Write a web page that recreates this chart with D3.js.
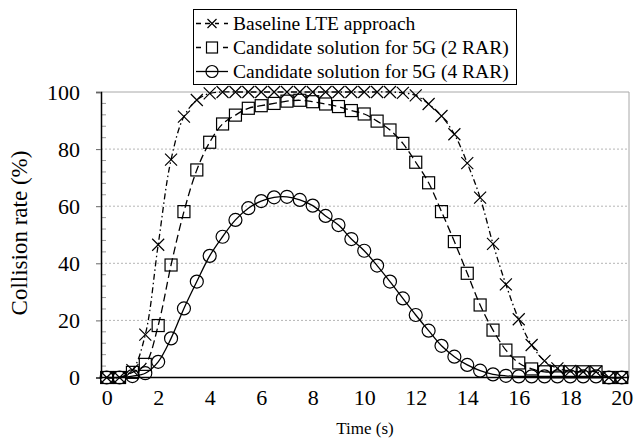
<!DOCTYPE html>
<html>
<head>
<meta charset="utf-8">
<script src="https://cdn.jsdelivr.net/npm/d3@7"></script>
<style>
  body { margin: 0; background: #fff; }
  svg { display: block; font-family: "Liberation Serif", "Times New Roman", serif; }
</style>
</head>
<body>
<div id="chart-container"></div>
<script>
// time axis (s)
const time = [0, 0.5, 1, 1.5, 2, 2.5, 3, 3.5, 4, 4.5, 5, 5.5, 6, 6.5, 7, 7.5, 8, 8.5, 9, 9.5,
  10, 10.5, 11, 11.5, 12, 12.5, 13, 13.5, 14, 14.5, 15, 15.5, 16, 16.5, 17, 17.5, 18, 18.5, 19, 19.5, 20]

const baselineLTE = [0, 0, 2.6, 15, 46.5, 76.3, 91.4, 97.2, 99.5, 100, 100, 100, 100, 100, 100, 100, 100, 100, 100, 100,
  100, 100, 100, 99.7, 98.8, 95.8, 91.6, 85.2, 75.1, 63, 46.8, 32.6, 20.4, 11.4, 5.8, 3.2, 2.3, 2, 2, 0, 0]

const rar2 = [0, 0, 1.8, 4.6, 18.2, 39.4, 58.1, 72.7, 82.4, 88.8, 91.9, 94.3, 95.2, 96, 96.8, 97.1, 96.6, 95.8, 94.9, 93.5,
  92.3, 89.8, 86.7, 82, 75.4, 68.2, 58.1, 47.6, 36.5, 25.4, 16.6, 9.6, 5.1, 3, 2, 2, 2, 2, 2, 0, 0]

const rar4 = [0, 0, 0.5, 1.5, 5.5, 13.7, 24.2, 33.6, 42.6, 49.3, 55.2, 59.3, 61.8, 63.1, 63.3, 62.2, 60.2, 56.6, 53.4, 48.5,
  44.4, 39.2, 33.6, 27.7, 21.9, 16.4, 11.1, 7.3, 4.4, 2.4, 1.1, 0.6, 0.4, 0.4, 0.4, 0.4, 0.4, 0.4, 0.4, 0, 0]

const seriesNames = ['Baseline LTE approach', 'Candidate solution for 5G (2 RAR)', 'Candidate solution for 5G (4 RAR)']
const xTicks = [0, 2, 4, 6, 8, 10, 12, 14, 16, 18, 20]
const yTicks = [0, 20, 40, 60, 80, 100]
const yMinorTicks = [4, 8, 12, 16, 24, 28, 32, 36, 44, 48, 52, 56, 64, 68, 72, 76, 84, 88, 92, 96]

const w = 635, h = 439
const pLeft = 101, pRight = 629, pTop = 92, pBottom = 377.5

const svg = d3.select('#chart-container')
  .append('svg')
  .attr('width', w)
  .attr('height', h)

const xScale = d3.scaleLinear()
  .domain([-0.22, 20.28])
  .range([pLeft, pRight])

const yScale = d3.scaleLinear()
  .domain([0, 100])
  .range([pBottom, pTop])

// gridlines
svg.append('g')
  .selectAll('line')
  .data(yTicks.filter(d => d > 0 && d < 100))
  .enter()
  .append('line')
  .attr('x1', pLeft).attr('x2', pRight)
  .attr('y1', d => yScale(d)).attr('y2', d => yScale(d))
  .attr('stroke', '#b5b5b5')
  .attr('stroke-width', 1)
  .attr('stroke-dasharray', '2,2')

// frame top + right
svg.append('path')
  .attr('d', `M${pLeft},${yScale(100)}H${pRight}V${pBottom}`)
  .attr('fill', 'none')
  .attr('stroke', '#a8a8a8')
  .attr('stroke-width', 1)

// minor ticks on y
svg.append('g')
  .selectAll('line')
  .data(yMinorTicks)
  .enter()
  .append('line')
  .attr('x1', pLeft).attr('x2', pLeft + 5)
  .attr('y1', d => yScale(d)).attr('y2', d => yScale(d))
  .attr('stroke', '#999')
  .attr('stroke-width', 1)

// y axis
const yAxis = d3.axisLeft(yScale)
  .tickValues(yTicks)
  .tickSize(5)
  .tickPadding(16)
const gy = svg.append('g')
  .attr('transform', `translate(${pLeft}, 0)`)
  .call(yAxis)
gy.select('.domain').attr('stroke', '#000').attr('stroke-width', 1.5)
gy.selectAll('.tick line').attr('stroke', '#666')
gy.selectAll('text')
  .attr('font-family', '"Liberation Serif", serif')
  .attr('font-size', 22)
  .attr('fill', '#000')

// x axis
const xAxis = d3.axisBottom(xScale)
  .tickValues(xTicks)
  .tickSize(0)
  .tickPadding(12)
const gx = svg.append('g')
  .attr('transform', `translate(0, ${pBottom})`)
  .call(xAxis)
gx.select('.domain').attr('d', `M${pLeft},0H${pRight}`).attr('stroke', '#000').attr('stroke-width', 1.5)
gx.selectAll('text')
  .attr('font-family', '"Liberation Serif", serif')
  .attr('font-size', 22)
  .attr('fill', '#000')

// axis titles
svg.append('text')
  .attr('x', 365)
  .attr('y', 434)
  .attr('text-anchor', 'middle')
  .attr('font-size', 17)
  .text('Time (s)')

svg.append('text')
  .attr('transform', `translate(27, 233) rotate(-90)`)
  .attr('text-anchor', 'middle')
  .attr('font-size', 23)
  .text('Collision rate (%)')

// series
const series = [
  { name: seriesNames[0], values: baselineLTE, dash: '6,3,1.5,3', marker: 'x' },
  { name: seriesNames[1], values: rar2, dash: '8,4', marker: 'square' },
  { name: seriesNames[2], values: rar4, dash: null, marker: 'circle' }
]

const line = d3.line()
  .x((d, i) => xScale(time[i]))
  .y(d => yScale(d))
  .curve(d3.curveCatmullRom)

function drawMarker(g, type, x, y, s) {
  if (type === 'x') {
    g.append('path')
      .attr('d', `M${x - s},${y - s}L${x + s},${y + s}M${x - s},${y + s}L${x + s},${y - s}`)
      .attr('stroke', '#000').attr('stroke-width', 1.2).attr('fill', 'none')
  } else if (type === 'square') {
    g.append('rect')
      .attr('x', x - s).attr('y', y - s)
      .attr('width', 2 * s).attr('height', 2 * s)
      .attr('stroke', '#000').attr('stroke-width', 1.2).attr('fill', 'none')
  } else {
    g.append('circle')
      .attr('cx', x).attr('cy', y).attr('r', s + 0.5)
      .attr('stroke', '#000').attr('stroke-width', 1.2).attr('fill', 'none')
  }
}

series.slice().reverse().forEach(s => {
  const g = svg.append('g')
  g.append('path')
    .datum(s.values)
    .attr('d', line)
    .attr('fill', 'none')
    .attr('stroke', '#000')
    .attr('stroke-width', 1.3)
    .attr('stroke-dasharray', s.dash)
  s.values.forEach((v, i) => drawMarker(g, s.marker, xScale(time[i]), yScale(v), 6))
})

// legend
const legend = svg.append('g')
legend.append('rect')
  .attr('x', 193.5).attr('y', 9.5)
  .attr('width', 323).attr('height', 75)
  .attr('fill', '#fff')
  .attr('stroke', '#000')
  .attr('stroke-width', 1)

series.forEach((s, i) => {
  const cy = 23.5 + i * 24
  legend.append('line')
    .attr('x1', 196).attr('x2', 228)
    .attr('y1', cy).attr('y2', cy)
    .attr('stroke', '#000')
    .attr('stroke-width', 1.3)
    .attr('stroke-dasharray', s.dash ? (i === 0 ? '5,4,5' : '5,22,5') : null)
  drawMarker(legend, s.marker, 212, cy, s.marker === 'x' ? 4.5 : 5.5)
  legend.append('text')
    .attr('x', 233)
    .attr('y', cy + 6.5)
    .attr('font-size', 19.5)
    .text(s.name)
})
</script>
</body>
</html>
